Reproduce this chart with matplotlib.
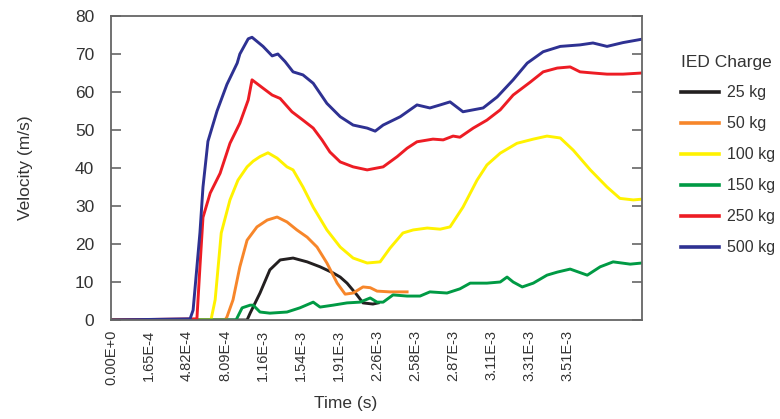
import matplotlib
matplotlib.use("Agg")
import matplotlib.pyplot as plt

plt.rcParams['font.family'] = ['Liberation Sans', 'DejaVu Sans']

# x positions are in category-label units (label i sits at position i)
time_labels = ["0.00E+0", "1.65E-4", "4.82E-4", "8.09E-4", "1.16E-3", "1.54E-3",
               "1.91E-3", "2.26E-3", "2.58E-3", "2.87E-3", "3.11E-3", "3.31E-3", "3.51E-3"]
x_max = 13.97

x_500 = [0, 2.08, 2.16, 2.34, 2.42, 2.55, 2.79, 3.05, 3.32, 3.39, 3.61, 3.71, 4.0, 4.24, 4.39,
         4.58, 4.79, 5.05, 5.32, 5.68, 6.03, 6.37, 6.74, 6.95, 7.16, 7.61, 8.05, 8.39, 8.66,
         8.92, 9.26, 9.79, 10.16, 10.58, 10.95, 11.37, 11.82, 12.34, 12.68, 13.05, 13.47, 13.97]
v_500 = [0, 0.3, 2.6, 23, 35, 47, 55, 62, 67.6, 70, 74, 74.4, 72, 69.5, 70,
         68, 65.3, 64.5, 62.3, 57, 53.5, 51.3, 50.5, 49.7, 51.3, 53.5, 56.6, 55.8, 56.6,
         57.4, 54.8, 55.8, 58.7, 63.2, 67.6, 70.6, 72, 72.4, 72.9, 72, 73, 73.9]

x_250 = [0, 2.26, 2.34, 2.42, 2.61, 2.87, 3.13, 3.39, 3.61, 3.71, 4.0, 4.24, 4.45, 4.76, 5.05,
         5.32, 5.55, 5.76, 6.03, 6.37, 6.74, 7.0, 7.16, 7.53, 7.79, 8.05, 8.47, 8.74, 9.0,
         9.18, 9.53, 9.89, 10.24, 10.58, 11.03, 11.37, 11.74, 12.08, 12.34, 12.68, 13.05,
         13.47, 13.97]
v_250 = [0, 0.3, 14, 27, 33.4, 38.6, 46.5, 51.8, 57.9, 63.2, 61, 59.2, 58.3, 54.8, 52.6,
         50.5, 47.4, 44.2, 41.6, 40.3, 39.5, 40, 40.3, 43, 45.2, 46.9, 47.6, 47.4, 48.4,
         48.1, 50.5, 52.6, 55.3, 59.2, 62.6, 65.3, 66.3, 66.6, 65.3, 65, 64.7, 64.7, 65]

x_100 = [0, 2.63, 2.74, 2.9, 3.13, 3.34, 3.58, 3.74, 3.92, 4.13, 4.37, 4.63, 4.79, 5.05,
         5.32, 5.68, 6.03, 6.37, 6.74, 7.08, 7.34, 7.68, 7.95, 8.32, 8.66, 8.92, 9.26, 9.63,
         9.89, 10.24, 10.68, 11.11, 11.47, 11.82, 12.16, 12.61, 13.05, 13.39, 13.74, 13.97]
v_100 = [0, 0, 5.3, 22.9, 31.6, 36.8, 40.3, 41.8, 43, 44, 42.6, 40.3, 39.5, 35,
         29.7, 23.7, 19.2, 16.3, 15, 15.3, 18.9, 22.9, 23.7, 24.2, 23.9, 24.5, 29.7, 36.8,
         40.8, 43.9, 46.5, 47.6, 48.4, 47.9, 44.7, 39.5, 35, 32, 31.6, 31.8]

x_50 = [0, 3.0, 3.05, 3.21, 3.39, 3.58, 3.84, 4.11, 4.37, 4.63, 4.89, 5.16, 5.42, 5.68,
        5.95, 6.16, 6.37, 6.63, 6.82, 7.0, 7.34, 7.79]
v_50 = [0, 0, 0.8, 5.3, 14, 21, 24.5, 26.3, 27.1, 25.8, 23.7, 21.8, 19.2, 15,
        9.7, 6.8, 7.1, 8.7, 8.5, 7.6, 7.4, 7.4]

x_25 = [0, 3.58, 3.66, 3.92, 4.18, 4.45, 4.79, 5.16, 5.5, 5.84, 6.03, 6.21, 6.47, 6.63,
        6.89, 7.03]
v_25 = [0, 0, 1.8, 7.1, 13.2, 15.8, 16.3, 15.3, 14, 12.4, 11.3, 9.7, 6.6, 4.5, 4.2, 4.5]

x_150 = [0, 3.29, 3.45, 3.66, 3.74, 3.92, 4.18, 4.63, 4.97, 5.32, 5.5, 5.84, 6.21, 6.55,
         6.82, 7.0, 7.16, 7.42, 7.79, 8.13, 8.39, 8.84, 9.18, 9.45, 9.89, 10.24, 10.42,
         10.58, 10.82, 11.11, 11.47, 11.74, 12.08, 12.53, 12.87, 13.21, 13.66, 13.97]
v_150 = [0, 0, 3.2, 3.9, 3.9, 2.1, 1.8, 2.1, 3.2, 4.7, 3.4, 3.9, 4.5, 4.7,
         5.8, 4.7, 4.7, 6.6, 6.3, 6.3, 7.4, 7.1, 8.2, 9.7, 9.7, 10, 11.3,
         10, 8.7, 9.7, 11.8, 12.6, 13.4, 11.8, 14, 15.3, 14.7, 15]

series = [
    ("25 kg", x_25, v_25, "#231f20"),
    ("50 kg", x_50, v_50, "#f7862a"),
    ("100 kg", x_100, v_100, "#fff200"),
    ("150 kg", x_150, v_150, "#009a44"),
    ("250 kg", x_250, v_250, "#ed1c24"),
    ("500 kg", x_500, v_500, "#2e3192"),
]

fig = plt.figure(figsize=(7.8, 4.19), dpi=100)
ax = fig.add_axes([111/780, 1-320/419, (642-111)/780, (320-16)/419])

for label, xs, vs, col in series:
    ax.plot(xs, vs, color=col, lw=2.1, label=label, solid_joinstyle='round')

ax.set_xlim(0, x_max)
ax.set_ylim(0, 80)
ax.set_yticks(range(0, 81, 10))
ax.set_xticks(range(len(time_labels)))
ax.set_xticklabels(time_labels, rotation=90, fontsize=10.5, color="#333333")
ax.tick_params(axis='x', length=0, pad=7)
ax.tick_params(axis='y', direction='in', length=7, width=1.2, color="#666666",
               labelsize=12.5, labelcolor="#333333", pad=12, right=True)
for sp in ax.spines.values():
    sp.set_color("#666666")
    sp.set_linewidth(1.3)

ax.set_ylabel("Velocity (m/s)", fontsize=12.5, color="#333333")
ax.yaxis.set_label_coords((33 - 111) / 531, 0.5)
ax.set_xlabel("Time (s)", fontsize=12.5, color="#333333")
ax.xaxis.set_label_coords((346 - 111) / 531, -(396 - 320) / 304)

leg = ax.legend(title="IED Charge", loc="upper left", bbox_to_anchor=(681/780, 1-55/419),
                bbox_transform=fig.transFigure, frameon=False, fontsize=11.5,
                title_fontsize=12.5, handlelength=2.4, handletextpad=0.5,
                labelspacing=1.0, borderaxespad=0, borderpad=0, alignment="left")
leg._legend_box.sep = 11
for t in leg.get_texts():
    t.set_color("#333333")
leg.get_title().set_color("#333333")
for h in leg.get_lines():
    h.set_linewidth(2.6)

fig.savefig("out.png", dpi=100)
